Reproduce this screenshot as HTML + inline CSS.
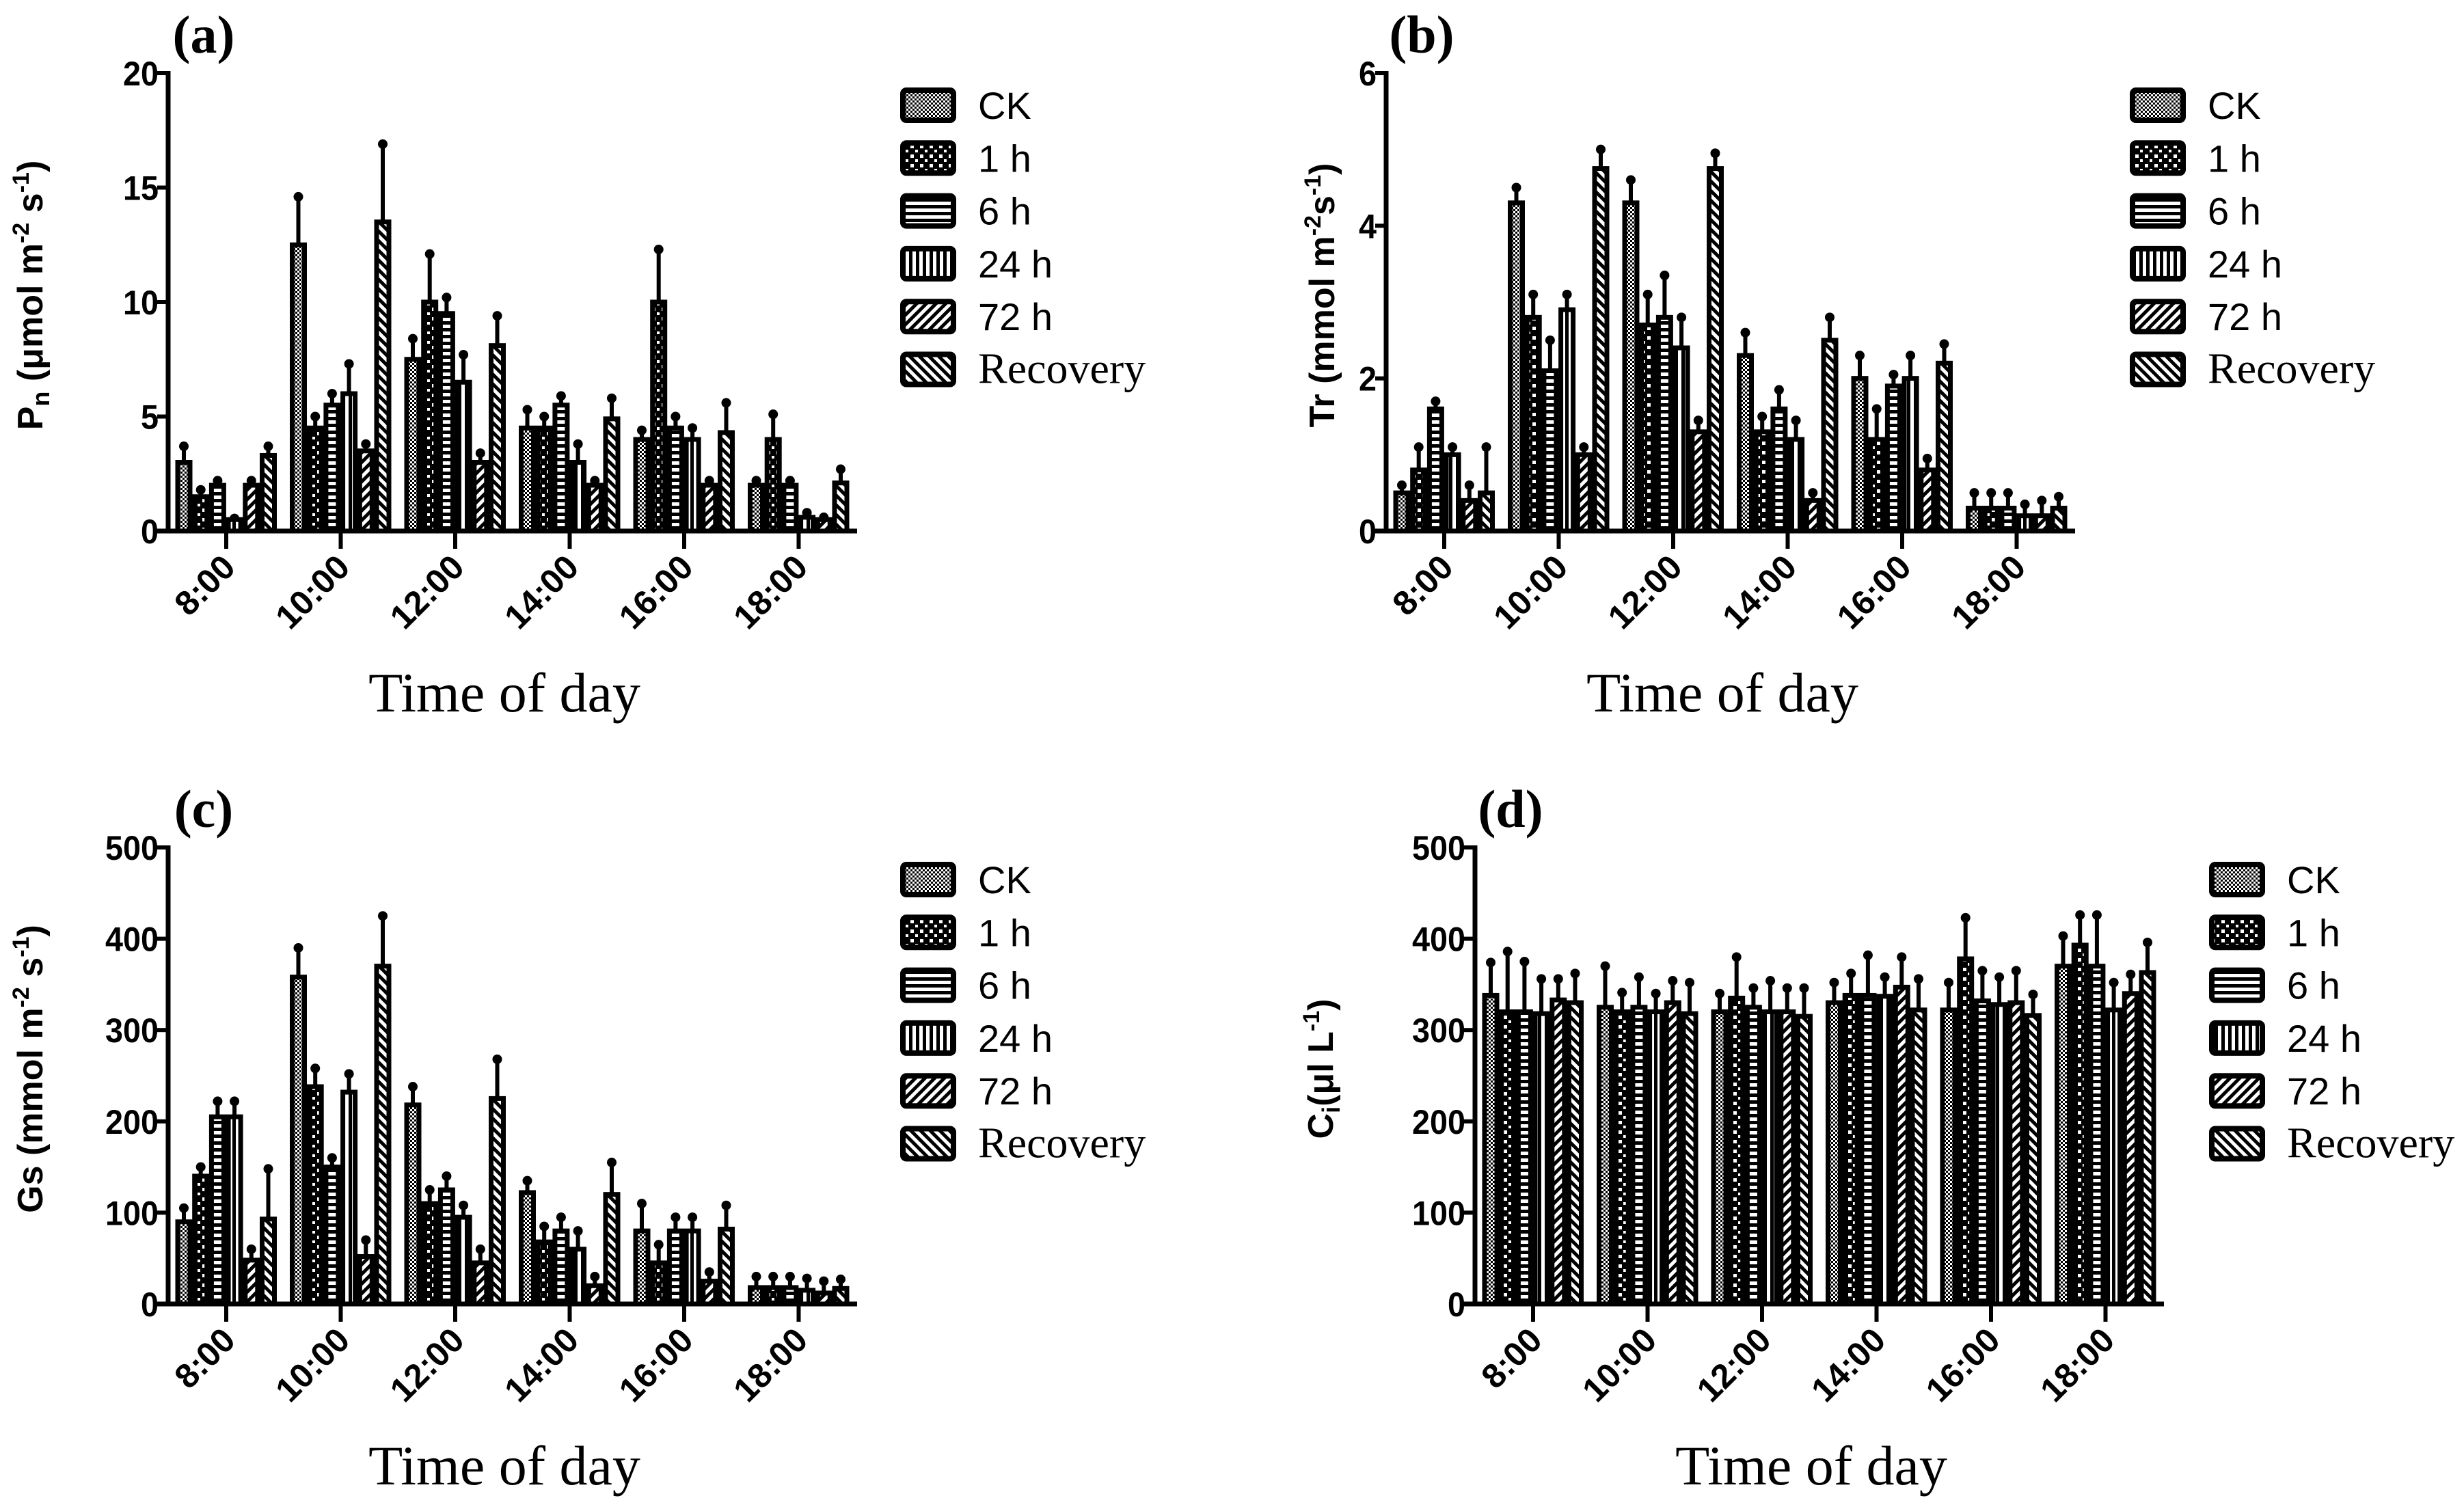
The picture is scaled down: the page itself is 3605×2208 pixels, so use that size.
<!DOCTYPE html>
<html><head><meta charset="utf-8"><style>
html,body{margin:0;padding:0;background:#fff;}
svg{display:block;}
.tk{font-family:"Liberation Sans",sans-serif;font-weight:bold;font-size:50px;}
.lg{font-family:"Liberation Sans",sans-serif;font-size:56px;}
.lgs{font-family:"Liberation Serif",serif;font-size:64px;}
.tt{font-family:"Liberation Serif",serif;font-size:82px;}
.pl{font-family:"Liberation Serif",serif;font-weight:bold;font-size:78px;}
.yt{font-family:"Liberation Sans",sans-serif;font-weight:bold;font-size:52px;}
</style></head><body>
<svg id="fig" width="3605" height="2208" viewBox="0 0 3605 2208" xmlns="http://www.w3.org/2000/svg">
<defs>
<pattern id="p0" width="6" height="6" patternUnits="userSpaceOnUse"><rect width="6" height="6" fill="#fff"/><rect width="3" height="3" fill="#000"/><rect x="3" y="3" width="3" height="3" fill="#000"/></pattern>
<pattern id="p1" width="14" height="14" patternUnits="userSpaceOnUse"><rect width="14" height="14" fill="#000"/><rect x="2" y="2" width="5" height="5" fill="#fff"/><rect x="9" y="9" width="4" height="4" fill="#fff"/></pattern>
<pattern id="p2" width="10" height="10" patternUnits="userSpaceOnUse"><rect width="10" height="10" fill="#fff"/><rect width="10" height="5" fill="#000"/></pattern>
<pattern id="p3" width="10" height="10" patternUnits="userSpaceOnUse"><rect width="10" height="10" fill="#fff"/><rect width="5" height="10" fill="#000"/></pattern>
<pattern id="p4" width="10" height="10" patternUnits="userSpaceOnUse" patternTransform="rotate(45)"><rect width="10" height="10" fill="#fff"/><rect width="5" height="10" fill="#000"/></pattern>
<pattern id="p5" width="10" height="10" patternUnits="userSpaceOnUse" patternTransform="rotate(-45)"><rect width="10" height="10" fill="#fff"/><rect width="5" height="10" fill="#000"/></pattern>
</defs>
</svg>
<script>
const categories = ["8:00","10:00","12:00","14:00","16:00","18:00"];
const seriesNames = ["CK","1 h","6 h","24 h","72 h","Recovery"];
// Panel a: Pn, rows = time groups, cols = series
const pnValues = [[3.0,1.5,2.0,0.5,2.0,3.3],[12.5,4.5,5.5,6.0,3.5,13.5],[7.5,10.0,9.5,6.5,3.0,8.1],[4.5,4.5,5.5,3.0,2.0,4.9],[4.0,10.0,4.5,4.0,2.0,4.3],[2.0,4.0,2.0,0.6,0.5,2.1]];
const pnErrors = [[0.7,0.3,0.2,0.05,0.2,0.4],[2.1,0.5,0.5,1.3,0.3,3.4],[0.9,2.1,0.7,1.2,0.4,1.3],[0.8,0.5,0.4,0.8,0.2,0.9],[0.4,2.3,0.5,0.5,0.2,1.3],[0.2,1.1,0.2,0.2,0.1,0.6]];
const pnTicks = [0,5,10,15,20];
// Panel b: Tr
const trValues = [[0.5,0.8,1.6,1.0,0.4,0.5],[4.3,2.8,2.1,2.9,1.0,4.75],[4.3,2.7,2.8,2.4,1.3,4.75],[2.3,1.3,1.6,1.2,0.4,2.5],[2.0,1.2,1.9,2.0,0.8,2.2],[0.3,0.3,0.3,0.2,0.2,0.3]];
const trErrors = [[0.1,0.3,0.1,0.1,0.2,0.6],[0.2,0.3,0.4,0.2,0.1,0.25],[0.3,0.4,0.55,0.4,0.15,0.2],[0.3,0.2,0.25,0.25,0.1,0.3],[0.3,0.4,0.15,0.3,0.15,0.25],[0.2,0.2,0.2,0.15,0.2,0.15]];
const trTicks = [0,2,4,6];
// Panel c: Gs
const gsValues = [[90,140,205,205,48,93],[358,238,150,232,52,370],[218,110,125,95,45,225],[122,68,80,60,20,120],[80,45,80,80,25,82],[18,18,18,15,12,17]];
const gsErrors = [[15,10,17,17,12,55],[32,20,10,20,18,55],[20,15,15,13,15,43],[13,17,15,20,10,35],[30,20,15,15,10,26],[12,12,12,13,13,10]];
const gsTicks = [0,100,200,300,400,500];
// Panel d: Ci
const ciValues = [[338,320,320,318,333,330],[325,320,325,320,330,318],[320,335,325,320,320,315],[330,338,338,337,347,322],[322,378,332,328,330,316],[370,393,370,322,340,363]];
const ciErrors = [[36,66,55,38,23,32],[45,21,33,20,24,34],[20,45,21,34,26,31],[22,24,44,21,33,34],[30,45,33,30,35,23],[33,33,56,30,21,33]];
const ciTicks = [0,100,200,300,400,500];

const NS = "http://www.w3.org/2000/svg";
const svg = document.getElementById("fig");
function mk(tag, attrs, parent){const e=document.createElementNS(NS,tag);for(const k in attrs)e.setAttribute(k,attrs[k]);(parent||svg).appendChild(e);return e;}

function drawPanel(cfg, values, errors, ticks){
  const g = mk("g",{});
  
  
  const ymax = ticks[ticks.length-1];
  const yS = v => cfg.bottom - v/ymax*(cfg.bottom-cfg.top);
  const xC = i => cfg.ax + 85 + i*167.5;
  values.forEach((grp,gi)=>{
    grp.forEach((v,si)=>{
      const x = xC(gi) - 74 + si*24.7 + 3;
      const yT = yS(v), yE = yS(v+errors[gi][si]);
      const eb = mk("line",{x1:x+9,x2:x+9,y1:yT,y2:yE,stroke:"#000","stroke-width":6},g);
      
      
      const cap = mk("circle",{cx:x+9,cy:yE,r:7,fill:"#000"},g);
      
      
      const r = mk("rect",{x:x,y:yT,width:18,height:cfg.bottom-yT,fill:"url(#p"+si+")",stroke:"#000","stroke-width":7},g);
      
      
    });
  });
  const ya = mk("line",{x1:cfg.ax,x2:cfg.ax,y1:cfg.top-3,y2:cfg.bottom+3,stroke:"#000","stroke-width":7},g);
  
  
  const xa = mk("line",{x1:cfg.ax-16,x2:cfg.ax+1008,y1:cfg.bottom,y2:cfg.bottom,stroke:"#000","stroke-width":7},g);
  
  
  ticks.forEach(t=>{
    const y=yS(t);
    mk("line",{x1:cfg.ax-16,x2:cfg.ax,y1:y,y2:y,stroke:"#000","stroke-width":6},g);
    const tl = mk("text",{x:cfg.ax-14,y:y+18,"text-anchor":"end",class:"tk",textLength:(String(t).length*26),lengthAdjust:"spacingAndGlyphs"},g);
    tl.textContent = t;
    
    
  });
  categories.forEach((c,i)=>{
    const x=xC(i);
    mk("line",{x1:x,x2:x,y1:cfg.bottom,y2:cfg.bottom+26,stroke:"#000","stroke-width":6},g);
    const tl = mk("text",{x:0,y:0,"text-anchor":"end",class:"tk",transform:"translate("+(x+16)+","+(cfg.bottom+56)+") rotate(-45)"},g);
    tl.textContent = c;
    
    
  });
  const xt = mk("text",{x:cfg.ax+492,y:cfg.bottom+264,"text-anchor":"middle",class:"tt"},g);
  xt.textContent = "Time of day";
  
  
  const pl = mk("text",{x:cfg.ax+52,y:cfg.top-30,"text-anchor":"middle",class:"pl"},g);
  pl.textContent = cfg.label;
  
  
  const yt = mk("text",{x:0,y:0,"text-anchor":"middle",class:"yt",transform:"translate("+(cfg.ytx)+","+((cfg.top+cfg.bottom)/2-10)+") rotate(-90)"},g);
  yt.innerHTML = cfg.ytitle;
  
  
  seriesNames.forEach((s,i)=>{
    const y = cfg.top + 47 + i*77.3;
    const b = mk("rect",{x:cfg.lx,y:y-22,width:74,height:44,rx:5,fill:"url(#p"+i+")",stroke:"#000","stroke-width":8},g);
    
    
    const t = mk("text",{x:cfg.lx+110,y:y+20,class:(s==="Recovery"?"lgs":"lg")},g);
    t.textContent = s;
    
    
  });
}
drawPanel({name:"panel-a",label:"(a)",ax:246,top:107,bottom:777,lx:1321,ytx:62,ytitle:'P<tspan font-size="36" dy="10">n</tspan><tspan dy="-10"> (μmol m</tspan><tspan font-size="34" dy="-20">-2</tspan><tspan dy="20"> s</tspan><tspan font-size="34" dy="-20">-1</tspan><tspan dy="20">)</tspan>'}, pnValues, pnErrors, pnTicks);
drawPanel({name:"panel-b",label:"(b)",ax:2028,top:107,bottom:777,lx:3120,ytx:1952,ytitle:'Tr (mmol m<tspan font-size="34" dy="-20">-2</tspan><tspan dy="20">s</tspan><tspan font-size="34" dy="-20">-1</tspan><tspan dy="20">)</tspan>'}, trValues, trErrors, trTicks);
drawPanel({name:"panel-c",label:"(c)",ax:246,top:1240,bottom:1908,lx:1321,ytx:62,ytitle:'Gs (mmol m<tspan font-size="34" dy="-20">-2</tspan><tspan dy="20"> s</tspan><tspan font-size="34" dy="-20">-1</tspan><tspan dy="20">)</tspan>'}, gsValues, gsErrors, gsTicks);
drawPanel({name:"panel-d",label:"(d)",ax:2158,top:1240,bottom:1908,lx:3236,ytx:1950,ytitle:'C<tspan font-size="36" dy="10">i</tspan><tspan dy="-10">(μl L</tspan><tspan font-size="34" dy="-20">-1</tspan><tspan dy="20">)</tspan>'}, ciValues, ciErrors, ciTicks);
</script>
</body></html>
